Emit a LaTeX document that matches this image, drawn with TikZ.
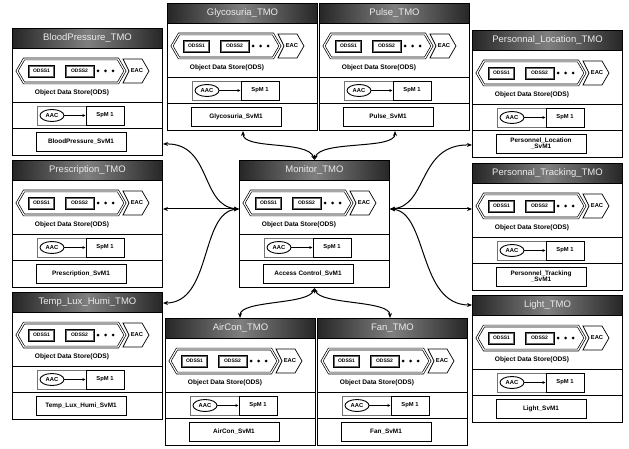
\documentclass[tikz,border=0pt]{standalone}
\usepackage{fontspec}
\setmainfont{Liberation Sans}
\usetikzlibrary{arrows.meta,calc,shapes.geometric}
\tikzset{
  tmoframe/.style={draw, line width=1pt, fill=white, minimum width=150pt, minimum height=127pt, anchor=north west, inner sep=0pt},
  tmohead/.style={draw, line width=1pt, left color=black!85, right color=black!85, middle color=black!50, minimum width=150pt, minimum height=20pt, anchor=north west, inner sep=0pt, text=black!8, font=\fontsize{9.5}{10}\selectfont},
  tmosep/.style={line width=0.9pt},
  hexa/.style={draw, fill=white, line width=0.7pt, double=white, double distance=1.1pt},
  odss/.style={draw, fill=white, line width=0.8pt, minimum height=12pt, inner sep=0.5pt, font=\fontsize{5}{5}\selectfont\bfseries},
  odssin/.style={draw=black!60, line width=0.4pt},
  eacshape/.style={draw, fill=white, line width=0.7pt},
  smalltxt/.style={inner sep=0pt, font=\fontsize{5.8}{6}\selectfont\bfseries},
  odstxt/.style={inner sep=0pt, font=\fontsize{6.6}{7}\selectfont\bfseries},
  aacbox/.style={draw=black!55, line width=0.6pt, minimum width=49pt, minimum height=19pt, inner sep=0pt},
  aacell/.style={ellipse, draw, line width=0.9pt, minimum width=24pt, minimum height=12pt, inner sep=0pt, font=\fontsize{5.8}{6}\selectfont\bfseries},
  spmbox/.style={draw, line width=0.9pt, minimum width=38pt, minimum height=19pt, inner sep=0pt, font=\fontsize{5.8}{6}\selectfont\bfseries},
  svmbox/.style={draw, line width=0.9pt, minimum width=90pt, minimum height=19pt, inner sep=0.8pt, align=center, font=\fontsize{6.4}{6.8}\selectfont\bfseries},
  aarrow/.style={line width=0.7pt, -{Latex[length=3pt,width=3pt]}},
  conn/.style={line width=1pt, {Stealth[length=5pt,width=4pt]}-{Stealth[length=5pt,width=4pt]}}
}
\newcommand{\tmoblock}[5]{%
\begin{scope}[shift={(#2,#3)}]
  \node[tmoframe] (#1) at (0,0) {};
  \node[tmohead] (#1-h) at (0,0) {#4};
  \draw[tmosep] (0,74) -- (150,74);
  \draw[tmosep] (0,100) -- (150,100);
  \draw[hexa] (5,43) -- (12,31) -- (106,31) -- (113,43) -- (106,55) -- (12,55) -- cycle;
  \node[odss, minimum width=26pt] (#1-o1) at (29.5,43) {ODSS1};
  \node[odss, minimum width=29pt] (#1-o2) at (67.5,43) {ODSS2};
  \draw[odssin] ($(#1-o1.north west)+(1.5,1.5)$) rectangle ($(#1-o1.south east)+(-1.5,-1.5)$);
  \draw[odssin] ($(#1-o2.north west)+(1.5,1.5)$) rectangle ($(#1-o2.south east)+(-1.5,-1.5)$);
  \fill (86,43) circle (1.5pt) (93.5,43) circle (1.5pt) (101,43) circle (1.5pt);
  \draw[eacshape] (111,31) -- (130,31) -- (137,43) -- (130,55) -- (111,55) -- (117,43) -- cycle;
  \node[smalltxt] (#1-eac) at (125,43) {EAC};
  \node[odstxt] (#1-ods) at (60,64.5) {Object Data Store(ODS)};
  \node[aacbox] (#1-aacb) at (49.5,87.5) {};
  \node[aacell] (#1-aac) at (40,87.5) {AAC};
  \node[spmbox] (#1-spm) at (93,87.5) {SpM 1};
  \draw[aarrow] (#1-aac) -- (#1-spm);
  \node[svmbox] (#1-svm) at (69,113.5) {#5};
\end{scope}}
\begin{document}
\begin{tikzpicture}[x=1pt, y=-1pt]
  \fill[white] (0,0) rectangle (629,449);
  \useasboundingbox (0,0) rectangle (629,449);
  \tmoblock{bp}{12}{28}{BloodPressure\_TMO}{BloodPressure\_SvM1}
  \tmoblock{gly}{167}{3}{Glycosuria\_TMO}{Glycosuria\_SvM1}
  \tmoblock{pulse}{319}{3}{Pulse\_TMO}{Pulse\_SvM1}
  \tmoblock{ploc}{472}{30}{Personnal\_Location\_TMO}{Personnel\_Location\\\_SvM1}
  \tmoblock{presc}{12}{160}{Prescription\_TMO}{Prescription\_SvM1}
  \tmoblock{mon}{239}{160}{Monitor\_TMO}{Access Control\_SvM1}
  \tmoblock{ptrack}{472}{163}{Personnal\_Tracking\_TMO}{Personnel\_Tracking\\\_SvM1}
  \tmoblock{tlh}{12}{292}{Temp\_Lux\_Humi\_TMO}{Temp\_Lux\_Humi\_SvM1}
  \tmoblock{air}{165}{318}{AirCon\_TMO}{AirCon\_SvM1}
  \tmoblock{fan}{317}{318}{Fan\_TMO}{Fan\_SvM1}
  \tmoblock{light}{472}{295}{Light\_TMO}{Light\_SvM1}
  % hubs on the Monitor block
  \coordinate (hubL) at ($(mon.north west)+(0,49)$);
  \coordinate (hubR) at ($(mon.north east)+(0,49)$);
  \coordinate (hubT) at (mon.north);
  \coordinate (hubB) at (mon.south);
  % connectors
  \draw[conn] (hubL) .. controls (200,206) and (212,143) .. ($(bp.south east)+(0,-12)$);
  \draw[conn] (hubL) -- (presc.east |- hubL);
  \draw[conn] (hubL) .. controls (200,212) and (212,303) .. ($(tlh.north east)+(0,11)$);
  \draw[conn] (hubR) .. controls (428,206) and (418,144) .. ($(ploc.south west)+(0,-13)$);
  \draw[conn] (hubR) -- (ptrack.west |- hubR);
  \draw[conn] (hubR) .. controls (428,212) and (418,305) .. ($(light.north west)+(0,10)$);
  \draw[conn] (hubT) .. controls (308,140) and (243,150) .. ($(gly.south west)+(76,0)$);
  \draw[conn] (hubT) .. controls (320,140) and (395,150) .. ($(pulse.south west)+(76,0)$);
  \draw[conn] (hubB) .. controls (308,305) and (240,300) .. ($(air.north west)+(75,0)$);
  \draw[conn] (hubB) .. controls (320,305) and (390,300) .. ($(fan.north west)+(73,0)$);
\end{tikzpicture}
\end{document}
